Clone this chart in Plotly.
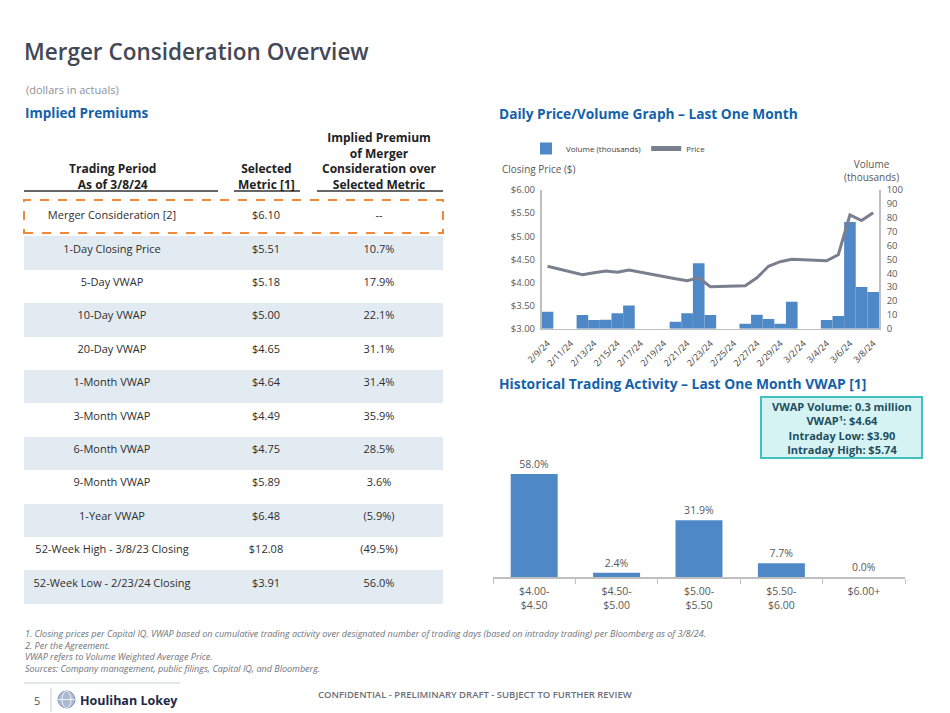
import plotly.graph_objects as go

# ---------------- data ----------------
periods = ["Merger Consideration [2]", "1-Day Closing Price", "5-Day VWAP", "10-Day VWAP",
           "20-Day VWAP", "1-Month VWAP", "3-Month VWAP", "6-Month VWAP", "9-Month VWAP",
           "1-Year VWAP", "52-Week High - 3/8/23 Closing", "52-Week Low - 2/23/24 Closing"]
metrics = ["$6.10", "$5.51", "$5.18", "$5.00", "$4.65", "$4.64", "$4.49", "$4.75",
           "$5.89", "$6.48", "$12.08", "$3.91"]
premiums = ["--", "10.7%", "17.9%", "22.1%", "31.1%", "31.4%", "35.9%", "28.5%",
            "3.6%", "(5.9%)", "(49.5%)", "56.0%"]
table_headers = ["Trading Period<br>As of 3/8/24",
                 "Selected<br>Metric [1]",
                 "Implied Premium<br>of Merger<br>Consideration over<br>Selected Metric"]

dates = ["2/9/24", "2/10/24", "2/11/24", "2/12/24", "2/13/24", "2/14/24", "2/15/24", "2/16/24",
         "2/17/24", "2/18/24", "2/19/24", "2/20/24", "2/21/24", "2/22/24", "2/23/24", "2/24/24",
         "2/25/24", "2/26/24", "2/27/24", "2/28/24", "2/29/24", "3/1/24", "3/2/24", "3/3/24",
         "3/4/24", "3/5/24", "3/6/24", "3/7/24", "3/8/24"]
volume = [12.3, 0, 0, 9.9, 6.3, 6.5, 11.1, 16.8, 0, 0, 0, 5.0, 11.1, 47.1, 9.9, 0, 0,
          3.6, 10.1, 7.0, 3.6, 19.5, 0, 0, 6.3, 9.1, 77, 30, 26.5]
price = [4.35, None, None, 4.17, 4.21, 4.25, 4.22, 4.27, None, None, None, 4.08, 4.04, 4.10,
         3.91, None, None, 3.93, 4.10, 4.35, 4.45, 4.50, None, None, 4.47, 4.60, 5.46, 5.34, 5.51]
date_ticks = dates[::2]

hist_bins = ["$4.00-<br>$4.50", "$4.50-<br>$5.00", "$5.00-<br>$5.50", "$5.50-<br>$6.00", "$6.00+"]
hist_pct = [58.0, 2.4, 31.9, 7.7, 0.0]

vwap_box_lines = ["VWAP Volume: 0.3 million", "VWAP<sup>1</sup>: $4.64",
                  "Intraday Low: $3.90", "Intraday High: $5.74"]

footnotes = ["1. Closing prices per Capital IQ. VWAP based on cumulative trading activity over designated number of trading days (based on intraday trading) per Bloomberg as of 3/8/24.",
             "2. Per the Agreement.",
             "VWAP refers to Volume Weighted Average Price.",
             "Sources: Company management, public filings, Capital IQ, and Bloomberg."]

# ---------------- helpers ----------------
# the page body has an 8px margin, so the figure is sized to fit the 950x713 window
OX, OY = 8, 8
W, H = 950 - OX, 713 - OY
def px(x): return (x - OX) / W
def py(y): return 1 - (y - OY) / H

FONT = "Open Sans"
BLUE_HDR = "#1361AA"
BAR = "#4F88C7"
GRAY_TXT = "#595959"
ROW_LIGHT = "#E3EBF2"
TABLE_HDR_GAP = 12.3   # residual height plotly keeps for an empty table header

fig = go.Figure()

# ---------------- table (body) ----------------
n = len(periods)
row_fill = ["white"] + [ROW_LIGHT if i % 2 == 1 else "white" for i in range(1, n)]
blank = [""] * n
fig.add_trace(go.Table(
    domain=dict(x=[px(24), px(443)], y=[py(608), py(199.3 - TABLE_HDR_GAP)]),
    columnwidth=[176, 132, 94, 17],
    header=dict(values=[], height=0, fill_color="rgba(0,0,0,0)",
                line=dict(width=0, color="rgba(0,0,0,0)")),
    cells=dict(values=[periods, metrics, premiums, blank], align="center", height=33.4,
               fill_color=[row_fill] * 4,
               line=dict(width=0, color="white"),
               font=dict(family=FONT, size=11, color="#2E2E2E")),
))

# ---------------- price / volume chart ----------------
fig.add_trace(go.Bar(x=dates, y=volume, name="Volume (thousands)", width=1,
                     marker=dict(color=BAR, line=dict(width=0)),
                     xaxis="x", yaxis="y", hoverinfo="x+y"))
fig.add_trace(go.Scatter(x=dates, y=price, name="Price", mode="lines", connectgaps=True,
                         line=dict(color="#7A7F8D", width=3),
                         xaxis="x", yaxis="y2"))

# ---------------- histogram ----------------
fig.add_trace(go.Bar(x=hist_bins, y=hist_pct, width=0.57, showlegend=False,
                     marker=dict(color=BAR, line=dict(width=0)),
                     texttemplate="%{y:.1f}%", textposition="outside",
                     textfont=dict(family=FONT, size=10.5, color=GRAY_TXT),
                     cliponaxis=False, xaxis="x3", yaxis="y3"))

axis_line = "#BFBFBF"
fig.update_layout(
    width=W, height=H, margin=dict(l=0, r=0, t=0, b=0, pad=0, autoexpand=False),
    paper_bgcolor="white", plot_bgcolor="white",
    font=dict(family=FONT, color=GRAY_TXT),
    showlegend=True,
    legend=dict(orientation="h", x=px(526), y=py(134), xanchor="left", yanchor="top",
                font=dict(family=FONT, size=8, color="#404040"), bgcolor="rgba(0,0,0,0)",
                traceorder="normal", itemwidth=30, itemsizing="constant"),
    xaxis=dict(domain=[px(541.7), px(879)], type="category", categoryorder="array",
               categoryarray=dates, range=[-0.5, len(dates) - 0.5],
               tickmode="array", tickvals=date_ticks, ticktext=date_ticks, tickangle=-45,
               showline=True, linecolor=axis_line, linewidth=1, showgrid=False, ticks="",
               ticklabelstandoff=5,
               tickfont=dict(family=FONT, size=9, color="#404040"), anchor="y", automargin=False),
    yaxis=dict(domain=[py(328.7), py(190)], range=[0, 100], dtick=10, side="right",
               showline=True, linecolor=axis_line, linewidth=1.5, showgrid=False,
               zeroline=False, ticks="", ticklabelstandoff=4,
               tickfont=dict(family=FONT, size=9.5, color=GRAY_TXT),
               anchor="x", automargin=False),
    yaxis2=dict(domain=[py(328.7), py(190)], range=[3, 6], dtick=0.5, side="left",
                overlaying="y", tickprefix="$", tickformat=".2f",
                showline=True, linecolor=axis_line, linewidth=1.5, showgrid=False,
                zeroline=False, ticks="", ticklabelstandoff=3,
                tickfont=dict(family=FONT, size=9.5, color=GRAY_TXT),
                anchor="x", automargin=False),
    xaxis3=dict(domain=[px(493), px(905)], type="category", tickson="boundaries",
                ticks="outside", ticklen=5, tickcolor=axis_line, showline=True,
                linecolor=axis_line, linewidth=1.5, showgrid=False, anchor="y3",
                ticklabelstandoff=4,
                tickfont=dict(family=FONT, size=10.5, color=GRAY_TXT), automargin=False),
    yaxis3=dict(domain=[py(577), py(461.6)], range=[0, 65], visible=False, anchor="x3"),
)

shapes = []
ann = []

def text(x, y, s, size, color, xanchor="left", weight=None, italic=False, family=FONT,
         align="center"):
    f = dict(family=family, size=size, color=color)
    if weight:
        f["weight"] = weight
    if italic:
        f["style"] = "italic"
    ann.append(dict(x=px(x), y=py(y), xref="paper", yref="paper", text=s, showarrow=False,
                    xanchor=xanchor, yanchor="middle", font=f, align=align))

# titles
text(22, 52, "Merger Consideration Overview", 22.5, "#434856", weight=600)
text(24, 90, "(dollars in actuals)", 11, "#8C9099")
text(23, 113, "Implied Premiums", 13.5, BLUE_HDR, weight="bold")
text(497, 113, "Daily Price/Volume Graph – Last One Month", 13.7, BLUE_HDR, weight="bold")
text(497, 383, "Historical Trading Activity – Last One Month VWAP [1]", 13.8, BLUE_HDR, weight="bold")

# table header (bottom-aligned labels) and underlines
hdr_centers = [112, 266, 379]
for cx, h in zip(hdr_centers, table_headers):
    ann.append(dict(x=px(cx), y=py(195), xref="paper", yref="paper", text=h, showarrow=False,
                    xanchor="center", yanchor="bottom", align="center",
                    font=dict(family=FONT, size=12, color="#222222", weight="bold")))
for x0, x1 in [(24, 218), (234, 300), (317, 443)]:
    shapes.append(dict(type="line", xref="paper", yref="paper", x0=px(x0), x1=px(x1),
                       y0=py(191), y1=py(191), line=dict(color="#333333", width=1.5)))
# orange dashed box around merger consideration row
shapes.append(dict(type="rect", xref="paper", yref="paper", x0=px(24), x1=px(443),
                   y0=py(233), y1=py(200), line=dict(color="#F08A3A", width=2, dash="dash")))

# price chart axis titles
text(500, 169, "Closing Price ($)", 10, GRAY_TXT)
text(871, 170, "Volume<br>(thousands)", 10, GRAY_TXT, xanchor="center")

# VWAP box
shapes.append(dict(type="rect", xref="paper", yref="paper", x0=px(761), x1=px(922),
                   y0=py(458), y1=py(397), line=dict(color="#45C0C0", width=2),
                   fillcolor="#D5F3F3", layer="below"))
text(841.5, 428, "<br>".join(vwap_box_lines), 11, "#1F4E5F", xanchor="center", weight="bold")

# footnotes (one left-aligned block)
text(23, 651, "<br>".join(footnotes), 9, "#6E737C", italic=True, align="left")

# footer
shapes.append(dict(type="line", xref="paper", yref="paper", x0=px(24), x1=px(180),
                   y0=py(683), y1=py(683), line=dict(color="#C8CDD5", width=1)))
shapes.append(dict(type="line", xref="paper", yref="paper", x0=px(51), x1=px(51),
                   y0=py(688), y1=py(712), line=dict(color="#C8CDD5", width=1)))
text(37, 700, "5", 11, "#555555", xanchor="center")
shapes.append(dict(type="circle", xref="paper", yref="paper", x0=px(58), x1=px(75),
                   y0=py(708), y1=py(691), fillcolor="#A9BAD2", line=dict(color="#7C93B5", width=1)))
shapes.append(dict(type="circle", xref="paper", yref="paper", x0=px(62), x1=px(71),
                   y0=py(708), y1=py(691), line=dict(color="white", width=0.8)))
shapes.append(dict(type="line", xref="paper", yref="paper", x0=px(58), x1=px(75),
                   y0=py(699.5), y1=py(699.5), line=dict(color="white", width=0.8)))
text(78, 700, "Houlihan Lokey", 12.5, "#1B2A4A", weight="bold")
text(475, 694, "CONFIDENTIAL - PRELIMINARY DRAFT - SUBJECT TO FURTHER REVIEW", 9.5,
     "#6B6F78", xanchor="center", weight=600)

fig.update_layout(shapes=shapes, annotations=ann)
fig.write_html("out.html")
